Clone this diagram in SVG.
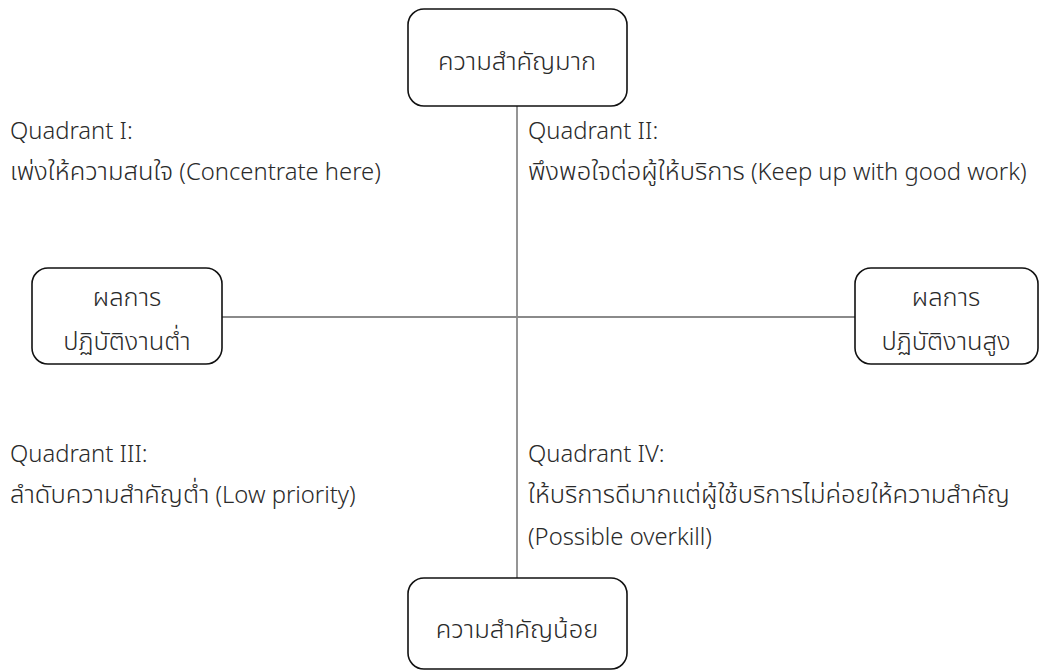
<svg xmlns="http://www.w3.org/2000/svg" width="1041" height="672" viewBox="0 0 1041 672">
<style>
.box{fill:#fff;stroke:#111;stroke-width:1.6}
.ln{stroke:#8a8a8a;stroke-width:1.8;fill:none}
text{font-family:"Noto Sans","Noto Sans Thai","DejaVu Sans",sans-serif;font-size:23.8px;font-weight:300;fill:#2a2a2a}
.th{font-size:25.5px}
.c{text-anchor:middle}
</style>
<rect width="1041" height="672" fill="#fff"/>
<g id="connectors">
<line class="ln" x1="517" y1="106" x2="517" y2="578"/>
<line class="ln" x1="222" y1="317" x2="855" y2="317"/>
</g>
<g id="top">
<rect class="box" x="408" y="9" width="219" height="97" rx="16"/>
<text class="c th" x="517" y="70">ความสำคัญมาก</text>
</g>
<g id="left">
<rect class="box" x="32" y="268" width="190" height="96" rx="16"/>
<text class="c th" x="127" y="306">ผลการ</text>
<text class="c th" x="127" y="350">ปฏิบัติงานต่ำ</text>
</g>
<g id="right">
<rect class="box" x="855" y="268" width="183" height="96" rx="16"/>
<text class="c th" x="946" y="306">ผลการ</text>
<text class="c th" x="946" y="350">ปฏิบัติงานสูง</text>
</g>
<g id="bottom">
<rect class="box" x="408" y="578" width="219" height="91" rx="16"/>
<text class="c th" x="517" y="638">ความสำคัญน้อย</text>
</g>
<g id="q1">
<text x="10" y="139">Quadrant I:</text>
<text x="10" y="180"><tspan class="th">เพ่งให้ความสนใจ</tspan> (Concentrate here)</text>
</g>
<g id="q2">
<text x="528" y="139">Quadrant II:</text>
<text x="528" y="180"><tspan class="th">พึงพอใจต่อผู้ให้บริการ</tspan> (Keep up with good work)</text>
</g>
<g id="q3">
<text x="10" y="462">Quadrant III:</text>
<text x="10" y="503"><tspan class="th">ลำดับความสำคัญต่ำ</tspan> (Low priority)</text>
</g>
<g id="q4">
<text x="528" y="462">Quadrant IV:</text>
<text class="th" x="528" y="503">ให้บริการดีมากแต่ผู้ใช้บริการไม่ค่อยให้ความสำคัญ</text>
<text x="528" y="545">(Possible overkill)</text>
</g>
</svg>
